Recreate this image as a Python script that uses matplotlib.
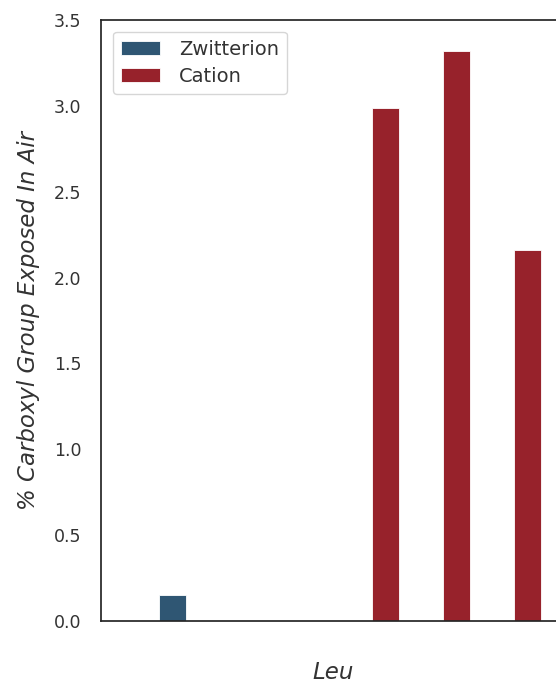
import matplotlib
matplotlib.use("Agg")
import matplotlib.pyplot as plt

# Bar slots within the Leu group and the measured percentages
slots = [1, 2, 3, 4, 5, 6]
zwitterion = [0.15, 0, 0, 0, 0, 0]
cation = [0, 0, 0, 2.99, 3.32, 2.16]
series_names = ["Zwitterion", "Cation"]
colors = ["#2f5673", "#97222b"]
yticks = [0.0, 0.5, 1.0, 1.5, 2.0, 2.5, 3.0, 3.5]

plt.rcParams["font.family"] = ["DejaVu Sans"]
text_color = "#333333"

fig = plt.figure(figsize=(5.56, 6.83), dpi=100)
ax = fig.add_axes([0.1817, 0.0908, 0.8345, 0.880])

width = 0.38
ax.bar(slots, zwitterion, width=width, color=colors[0], edgecolor="white",
       linewidth=0.6, label=series_names[0])
ax.bar(slots, cation, width=width, color=colors[1], edgecolor="white",
       linewidth=0.6, label=series_names[1])

ax.set_xlim(0.0, 6.53)
ax.set_ylim(0, 3.5)
ax.set_yticks(yticks)
ax.set_yticklabels([f"{t:.1f}" for t in yticks])
ax.set_xticks([])

for s in ax.spines.values():
    s.set_color("#262626")
    s.set_linewidth(1.25)

ax.tick_params(axis="y", length=0, pad=14, labelsize=12.5, labelcolor=text_color)

ax.set_ylabel("% Carboxyl Group Exposed In Air", fontsize=16.5, style="italic",
              color=text_color, labelpad=10)
ax.set_xlabel("Leu", fontsize=16.5, style="italic", color=text_color, labelpad=29)

leg = ax.legend(loc="upper left", fontsize=14, frameon=True, borderpad=0.42,
                handlelength=2.0, handletextpad=1.0, labelspacing=0.42,
                borderaxespad=0.6)
leg.get_frame().set_edgecolor("#cccccc")
for t in leg.get_texts():
    t.set_color(text_color)

fig.savefig("out.png", dpi=100)
